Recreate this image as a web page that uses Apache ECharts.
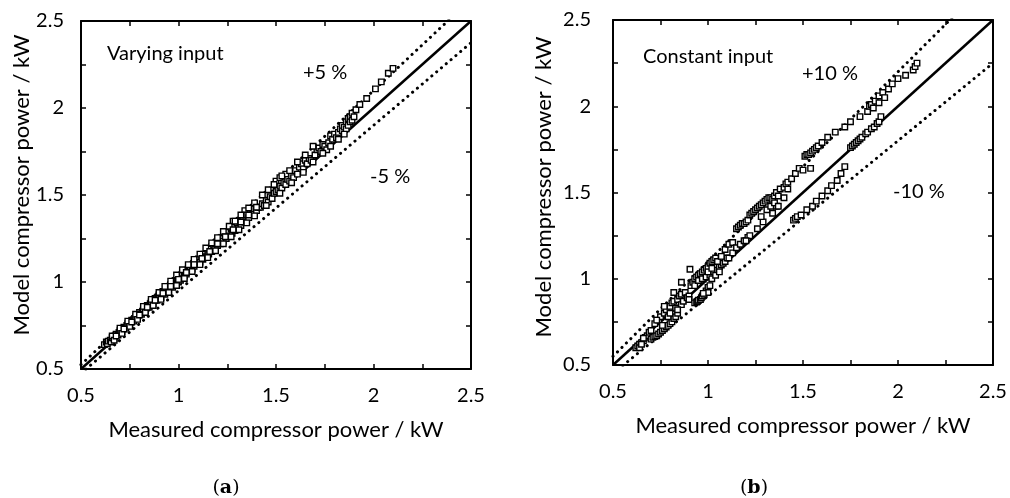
<!DOCTYPE html>
<html>
<head>
<meta charset="utf-8">
<script src="https://cdn.jsdelivr.net/npm/echarts@6/dist/echarts.min.js"></script>
<style>
html,body{margin:0;padding:0;background:#fff;}
#c{width:1010px;height:498px;}
</style>
</head>
<body>
<div id="c"></div>
<script>
// ---- data ----
const axisMin = 0.5, axisMax = 2.5, tickStep = 0.25;
const tickLabels = ['0.5', '1', '1.5', '2', '2.5'];
const xTitle = 'Measured compressor power / kW';
const yTitle = 'Model compressor power / kW';
const panelTags = ['Varying input', 'Constant input'];
const bandLabelsA = ['+5 %', '-5 %'];
const bandLabelsB = ['+10 %', '-10 %'];
const bandA = 0.05, bandB = 0.10;
const diagEnds = [0.5, 2.5];

// (a) varying input: [measured, model]
const pointsA = [
[0.62,0.64],[0.63,0.655],[0.635,0.645],[0.64,0.66],[0.65,0.665],[0.655,0.655],[0.66,0.68],[0.67,0.675],[0.675,0.69],[0.68,0.70],
[0.69,0.695],[0.695,0.71],[0.70,0.72],[0.71,0.715],[0.715,0.73],[0.72,0.74],[0.73,0.735],[0.735,0.75],[0.74,0.76],[0.75,0.755],
[0.755,0.77],[0.76,0.78],[0.77,0.775],[0.775,0.79],[0.78,0.80],[0.79,0.795],[0.795,0.81],[0.80,0.825],[0.81,0.815],[0.815,0.83],
[0.82,0.845],[0.83,0.835],[0.835,0.85],[0.84,0.865],[0.85,0.855],[0.855,0.875],[0.86,0.885],[0.87,0.875],[0.875,0.895],[0.88,0.905],
[0.89,0.895],[0.895,0.915],[0.90,0.925],[0.91,0.91],[0.915,0.935],[0.92,0.945],[0.93,0.93],[0.935,0.955],[0.94,0.965],[0.95,0.95],
[0.955,0.975],[0.96,0.985],[0.97,0.97],[0.975,0.995],[0.98,1.005],[0.99,0.99],[0.995,1.02],[1.00,1.03],[1.00,1.00],[1.01,1.01],
[1.015,1.04],[1.02,1.05],[1.03,1.035],[1.035,1.06],[1.04,1.045],[1.05,1.075],[1.055,1.06],[1.06,1.085],[1.07,1.075],[1.075,1.10],
[1.08,1.09],[1.09,1.115],[1.095,1.10],[1.10,1.13],[1.11,1.115],[1.12,1.145],[1.125,1.13],[1.13,1.16],[1.14,1.145],[1.15,1.175],
[1.155,1.16],[1.16,1.19],[1.17,1.175],[1.18,1.21],[1.185,1.19],[1.19,1.225],[1.20,1.21],[1.21,1.245],[1.215,1.22],[1.22,1.25],
[1.23,1.235],[1.24,1.27],[1.245,1.25],[1.25,1.285],[1.26,1.265],[1.27,1.305],[1.275,1.28],[1.28,1.315],[1.28,1.35],[1.29,1.295],
[1.30,1.34],[1.305,1.31],[1.31,1.35],[1.32,1.325],[1.33,1.37],[1.34,1.41],[1.34,1.345],[1.35,1.385],[1.36,1.37],[1.37,1.40],
[1.38,1.39],[1.39,1.42],[1.40,1.41],[1.41,1.43],[1.42,1.43],[1.43,1.45],[1.44,1.44],[1.45,1.47],[1.46,1.46],[1.47,1.49],
[1.48,1.48],[1.49,1.51],[1.50,1.52],[1.50,1.58],[1.51,1.53],[1.52,1.55],[1.52,1.60],[1.53,1.54],[1.54,1.57],[1.55,1.56],
[1.55,1.62],[1.56,1.59],[1.57,1.58],[1.58,1.61],[1.59,1.60],[1.60,1.64],[1.61,1.62],[1.62,1.66],[1.63,1.68],[1.64,1.65],
[1.65,1.70],[1.66,1.68],[1.67,1.71],[1.68,1.70],[1.70,1.73],[1.71,1.76],[1.72,1.77],[1.73,1.75],[1.74,1.79],[1.75,1.78],
[1.76,1.76],[1.77,1.80],[1.78,1.84],[1.79,1.82],[1.80,1.85],[1.81,1.83],[1.82,1.86],[1.83,1.88],[1.84,1.87],[1.84,1.90],
[1.85,1.89],[1.86,1.92],[1.86,1.88],[1.87,1.94],[1.87,1.90],[1.88,1.95],[1.88,1.92],[1.89,1.97],[1.89,1.93],[1.90,1.95],
[1.91,1.99],[1.93,2.02],[1.965,2.055],[2.01,2.11],[2.04,2.15],[2.076,2.20],[2.10,2.228],
[0.66,0.69],[0.70,0.735],[0.74,0.775],[0.78,0.815],[0.82,0.86],[0.86,0.90],[0.90,0.94],[0.93,0.975],[0.96,1.005],[0.99,1.04],
[1.02,1.07],[1.05,1.10],[1.08,1.13],[1.11,1.16],[1.14,1.195],[1.17,1.225],[1.20,1.255],[1.23,1.29],[1.26,1.32],[1.29,1.35],
[1.32,1.385],[1.36,1.425],[1.39,1.455],[1.43,1.50],[1.46,1.53],[1.49,1.56],[1.53,1.61],[1.57,1.64],[1.61,1.69],[1.65,1.73],[1.69,1.78],
[0.67,0.665],[0.71,0.705],[0.75,0.745],[0.79,0.785],[0.83,0.825],[0.87,0.865],[0.91,0.90],[0.95,0.94],[0.99,0.98],[1.03,1.02],
[1.07,1.06],[1.11,1.10],[1.15,1.14],[1.19,1.18],[1.23,1.22],[1.27,1.26],[1.31,1.30],[1.35,1.34],[1.39,1.38],[1.45,1.44],
[1.52,1.51],[1.58,1.57],[1.64,1.63],[1.69,1.69],[1.74,1.74],[1.78,1.78],[1.82,1.82],[1.85,1.85],
[0.68,0.69],[0.72,0.73],[0.76,0.77],[0.80,0.81],[0.84,0.855],[0.88,0.895],[0.92,0.935],[0.96,0.975],[1.00,1.015],[1.04,1.055],
[1.08,1.10],[1.12,1.135],[1.16,1.175],[1.20,1.22],[1.24,1.26],[1.28,1.30],[1.32,1.345],[1.36,1.385],[1.40,1.43]
];

// (b) constant input: [measured, model]
const pointsB = [
[0.62,0.60],[0.63,0.61],[0.64,0.62],[0.65,0.63],[0.66,0.64],[0.67,0.66],[0.68,0.67],[0.69,0.69],[0.70,0.70],[0.66,0.655],[0.64,0.60],[0.65,0.62],
[0.70,0.65],[0.71,0.66],[0.72,0.665],[0.73,0.67],[0.74,0.68],[0.75,0.69],[0.76,0.70],[0.77,0.71],[0.78,0.72],[0.79,0.73],[0.80,0.74],[0.81,0.75],[0.82,0.77],[0.83,0.78],[0.84,0.80],
[0.72,0.74],[0.74,0.76],[0.75,0.78],[0.77,0.80],[0.78,0.82],[0.80,0.84],[0.81,0.86],[0.82,0.87],[0.84,0.88],[0.85,0.90],[0.86,0.91],[0.88,0.92],
[0.76,0.73],[0.79,0.78],[0.83,0.83],[0.86,0.85],[0.87,0.87],[0.89,0.89],[0.90,0.90],
[0.77,0.84],[0.82,0.92],[0.86,0.98],[0.905,1.055],[0.73,0.76],[0.80,0.80],[0.84,0.82],[0.90,0.88],
[0.93,0.86],[0.94,0.865],[0.945,0.87],[0.95,0.875],[0.96,0.88],[0.965,0.89],[0.97,0.90],[0.98,0.91],[0.99,0.93],[1.00,0.95],[1.01,0.96],[1.00,0.92],[0.975,0.915],
[0.91,0.96],[0.92,0.98],[0.93,1.00],[0.94,1.01],[0.95,1.02],[0.96,1.03],[0.97,1.04],[0.98,1.05],[0.99,1.06],[1.00,1.07],[1.01,1.09],[1.02,1.10],[1.03,1.11],[1.04,1.12],
[0.93,0.96],[0.95,0.99],[0.97,1.00],[0.99,1.01],[1.01,1.02],[1.03,1.04],[1.05,1.05],[1.06,1.07],[1.07,1.08],[1.08,1.09],[1.09,1.10],[1.10,1.12],
[1.05,1.10],[1.07,1.13],[1.09,1.17],[1.11,1.20],[1.13,1.21],[1.02,1.00],[1.04,1.02],[1.06,1.04],[1.11,1.12],[1.13,1.15],[1.15,1.18],[1.17,1.20],[1.19,1.22],[1.21,1.24],[1.00,1.04],[1.02,1.06],
[1.15,1.29],[1.16,1.30],[1.17,1.31],[1.18,1.32],[1.19,1.32],[1.20,1.33],[1.21,1.34],[1.22,1.37],[1.23,1.38],[1.24,1.39],[1.25,1.40],[1.26,1.41],[1.27,1.42],[1.28,1.43],[1.29,1.44],
[1.30,1.45],[1.31,1.46],[1.32,1.47],[1.33,1.47],[1.34,1.46],[1.35,1.48],[1.36,1.50],[1.37,1.48],[1.38,1.52],[1.40,1.53],[1.41,1.55],[1.42,1.56],[1.44,1.58],[1.46,1.61],[1.48,1.64],[1.50,1.63],[1.54,1.64],
[1.29,1.33],[1.26,1.29],[1.22,1.25],[1.20,1.22],[1.34,1.38],[1.36,1.42],[1.31,1.40],[1.33,1.42],[1.35,1.44],[1.37,1.42],[1.40,1.47],[1.42,1.52],[1.28,1.36],
[1.45,1.34],[1.46,1.35],[1.47,1.36],[1.49,1.37],[1.52,1.40],[1.55,1.42],[1.57,1.45],[1.60,1.48],[1.63,1.51],[1.65,1.54],[1.68,1.57],[1.70,1.61],[1.72,1.65],
[1.51,1.71],[1.52,1.72],[1.53,1.72],[1.54,1.73],[1.55,1.74],[1.56,1.75],[1.57,1.76],[1.58,1.77],[1.60,1.79],[1.63,1.82],[1.67,1.85],[1.72,1.88],[1.75,1.91],[1.80,1.94],
[1.84,1.97],[1.85,2.00],[1.86,2.01],[1.87,1.99],[1.88,2.03],[1.90,2.02],[1.90,2.06],[1.92,2.08],[1.93,2.05],[1.95,2.10],[1.97,2.13],[2.00,2.16],[2.04,2.18],[2.08,2.21],[2.09,2.23],[2.10,2.25],
[1.75,1.76],[1.76,1.77],[1.77,1.78],[1.78,1.79],[1.79,1.80],[1.80,1.81],[1.81,1.82],[1.83,1.84],[1.84,1.85],[1.86,1.87],[1.875,1.88],[1.89,1.90],[1.90,1.91],[1.91,1.94]
];

// ---- chart ----
const FONT = 'Lato';
const grids = [
  {left: 81, top: 21, width: 390, height: 348},
  {left: 613, top: 20, width: 380, height: 345}
];

function labelFmt(v) {
  const s = String(Math.round(v * 100) / 100);
  return tickLabels.indexOf(s) >= 0 ? s : '';
}

function xAxes(g) {
  const base = {
    gridIndex: g, type: 'value', min: axisMin, max: axisMax, interval: tickStep,
    axisLine: {show: true, onZero: false, lineStyle: {color: '#000', width: 2}},
    axisTick: {show: true, inside: true, length: 5, lineStyle: {color: '#000', width: 1.5}},
    splitLine: {show: false}
  };
  return [
    Object.assign({}, base, {position: 'bottom',
      axisLabel: {show: true, formatter: labelFmt, color: '#000', fontSize: 20, fontFamily: FONT, margin: 17, showMaxLabel: true, showMinLabel: true, hideOverlap: false},
      name: xTitle, nameLocation: 'middle', nameGap: 50,
      nameTextStyle: {color: '#000', fontSize: 22, fontFamily: FONT}}),
    Object.assign({}, base, {position: 'top', axisLabel: {show: false}})
  ];
}
function yAxes(g, margin) {
  const base = {
    gridIndex: g, type: 'value', min: axisMin, max: axisMax, interval: tickStep,
    axisLine: {show: true, onZero: false, lineStyle: {color: '#000', width: 2}},
    axisTick: {show: true, inside: true, length: 5, lineStyle: {color: '#000', width: 1.5}},
    splitLine: {show: false}
  };
  return [
    Object.assign({}, base, {position: 'left',
      axisLabel: {show: true, formatter: labelFmt, color: '#000', fontSize: 20, fontFamily: FONT, margin: margin, showMaxLabel: true, showMinLabel: true, hideOverlap: false}}),
    Object.assign({}, base, {position: 'right', axisLabel: {show: false}})
  ];
}

function refSeries(xi, yi, factor, dotted) {
  return {
    type: 'line', xAxisIndex: xi, yAxisIndex: yi, silent: true, symbol: 'none', clip: true, z: 2,
    data: diagEnds.map(v => [v, v * factor]),
    lineStyle: dotted
      ? {color: '#000', width: 3, type: [0.1, 6.2], cap: 'round'}
      : {color: '#000', width: 2.5, type: 'solid'}
  };
}
function scatter(xi, yi, pts) {
  return {
    type: 'scatter', xAxisIndex: xi, yAxisIndex: yi, data: pts, symbol: 'rect', symbolSize: 5.5, z: 5,
    itemStyle: {color: '#fff', borderColor: '#000', borderWidth: 1.4, opacity: 1}
  };
}

const txt = (x, y, s, extra) => Object.assign({type: 'text', x: x, y: y,
  style: Object.assign({text: s, fill: '#000', font: '20px ' + FONT, textAlign: 'left', textVerticalAlign: 'middle'}, extra || {})});

const chart = echarts.init(document.getElementById('c'), null, {renderer: 'canvas'});
chart.setOption({
  animation: false,
  backgroundColor: '#fff',
  grid: grids,
  xAxis: xAxes(0).concat(xAxes(1)),
  yAxis: yAxes(0, 17).concat(yAxes(1, 22)),
  series: [
    refSeries(0, 0, 1, false),
    refSeries(0, 0, 1 + bandA, true),
    refSeries(0, 0, 1 - bandA, true),
    scatter(0, 0, pointsA),
    refSeries(2, 2, 1, false),
    refSeries(2, 2, 1 + bandB, true),
    refSeries(2, 2, 1 - bandB, true),
    scatter(2, 2, pointsB)
  ],
  graphic: [
    {type: 'text', x: 22, y: 185, rotation: Math.PI / 2,
      style: {text: yTitle, fill: '#000', font: '22px ' + FONT, textAlign: 'center', textVerticalAlign: 'middle'}},
    {type: 'text', x: 544, y: 187, rotation: Math.PI / 2,
      style: {text: yTitle, fill: '#000', font: '22px ' + FONT, textAlign: 'center', textVerticalAlign: 'middle'}},
    txt(107, 54, panelTags[0]),
    txt(303, 73, bandLabelsA[0]),
    txt(370, 177, bandLabelsA[1]),
    txt(643, 57, panelTags[1]),
    txt(802, 74, bandLabelsB[0]),
    txt(893, 192, bandLabelsB[1]),
    {type: 'text', x: 226, y: 488, style: {text: '({b|a})', fill: '#000', font: '19px "DejaVu Serif"', textAlign: 'center', textVerticalAlign: 'middle',
      rich: {b: {fontWeight: 'bold', fontSize: 19, fontFamily: 'DejaVu Serif'}}}},
    {type: 'text', x: 754, y: 488, style: {text: '({b|b})', fill: '#000', font: '19px "DejaVu Serif"', textAlign: 'center', textVerticalAlign: 'middle',
      rich: {b: {fontWeight: 'bold', fontSize: 19, fontFamily: 'DejaVu Serif'}}}}
  ]
});
</script>
</body>
</html>
